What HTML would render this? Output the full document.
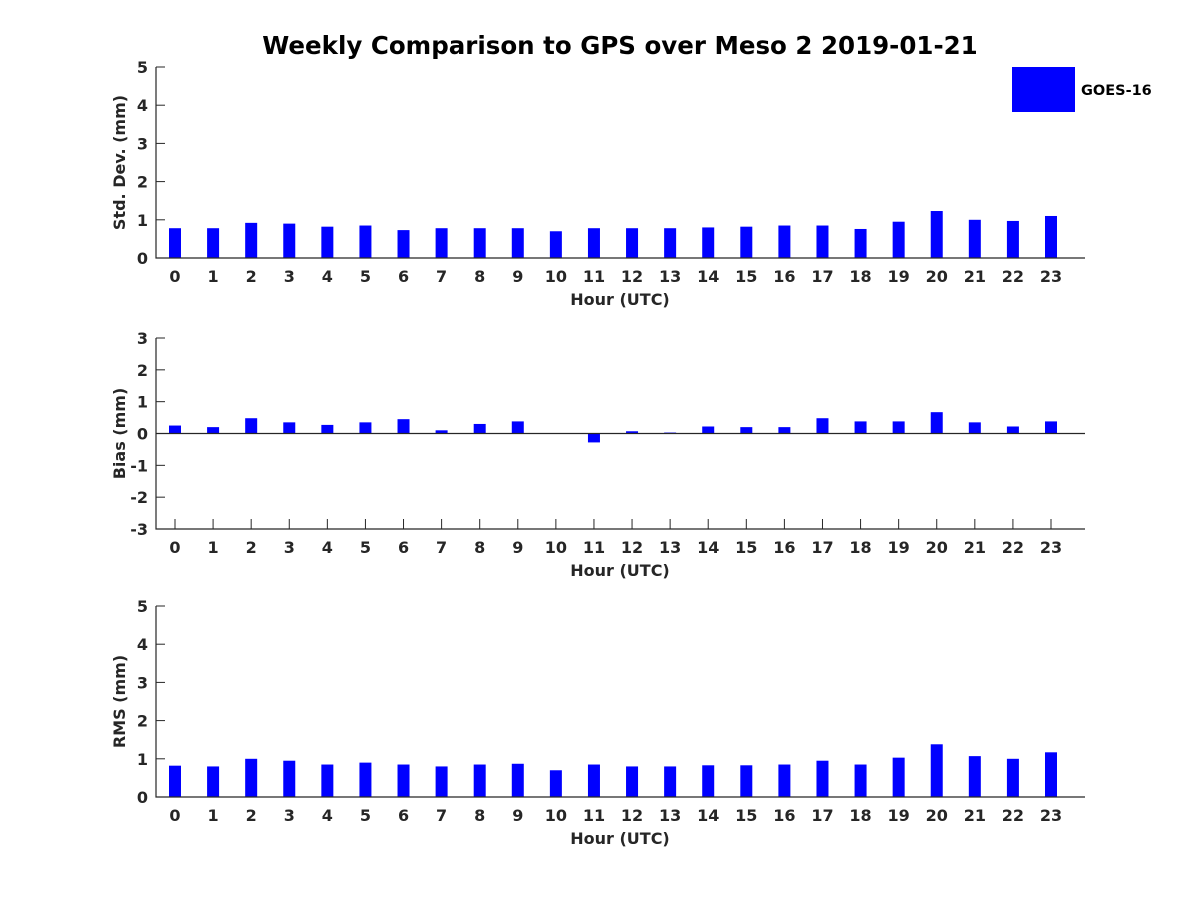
<!DOCTYPE html>
<html><head><meta charset="utf-8"><style>
body{margin:0;background:#fff}
svg text{font-family:"DejaVu Sans","Liberation Sans",sans-serif;font-weight:bold;fill:#262626}
</style></head><body>
<svg id="chart" width="1200" height="900" xmlns="http://www.w3.org/2000/svg">
<rect width="1200" height="900" fill="#fff"/>
<text x="620" y="54" text-anchor="middle" font-size="24.5" style="fill:#000">Weekly Comparison to GPS over Meso 2 2019-01-21</text>
<rect x="1012" y="67" width="63" height="45" fill="#0000ff"/>
<text x="1081" y="95" font-size="14.5" style="fill:#000">GOES-16</text>
</svg>
<script>
const hours=[0,1,2,3,4,5,6,7,8,9,10,11,12,13,14,15,16,17,18,19,20,21,22,23];
const stdValues=[0.78,0.78,0.92,0.9,0.82,0.85,0.73,0.78,0.78,0.78,0.7,0.78,0.78,0.78,0.8,0.82,0.85,0.85,0.76,0.95,1.23,1.0,0.97,1.1];
const biasValues=[0.25,0.2,0.48,0.35,0.27,0.35,0.45,0.1,0.3,0.38,0,-0.28,0.07,0.03,0.22,0.2,0.2,0.48,0.38,0.38,0.67,0.35,0.22,0.38];
const rmsValues=[0.82,0.8,1.0,0.95,0.85,0.9,0.85,0.8,0.85,0.87,0.7,0.85,0.8,0.8,0.83,0.83,0.85,0.95,0.85,1.03,1.38,1.07,1.0,1.17];
const stdTicks=[0,1,2,3,4,5];
const biasTicks=[-3,-2,-1,0,1,2,3];
const rmsTicks=[0,1,2,3,4,5];
const svg=document.getElementById('chart');
const NS='http://www.w3.org/2000/svg';
function mk(tag,attrs,parent){const e=document.createElementNS(NS,tag);for(const k in attrs)e.setAttribute(k,attrs[k]);(parent||svg).appendChild(e);return e;}
const X0=156,X1=1085;
function xS(h){return 175+h*(876/23);}
function panel(name,vals,ticks,top,bot,ylabel){
  const ymin=ticks[0],ymax=ticks[ticks.length-1];
  const yS=v=>bot-(v-ymin)/(ymax-ymin)*(bot-top);
  const g=mk('g',{});
  
  
  ticks.forEach(t=>{
    const y=yS(t);
    mk('line',{x1:X0,x2:X0+9,y1:y,y2:y,stroke:'#262626'},g);
    const tx=mk('text',{x:X0-8,y:y+6,'text-anchor':'end','font-size':16},g);
    tx.textContent=t;
    
    
  });
  hours.forEach(h=>{
    const x=xS(h);
    mk('line',{x1:x,x2:x,y1:bot,y2:bot-10,stroke:'#262626'},g);
    const tx=mk('text',{x:x,y:bot+24,'text-anchor':'middle','font-size':16},g);
    tx.textContent=h;
    
    
  });
  vals.forEach((v,i)=>{
    const y0=yS(0),y1=yS(v);
    const r=mk('rect',{x:xS(hours[i])-6,y:Math.min(y0,y1),width:12,height:Math.max(Math.abs(y1-y0),0.01),fill:'#0000ff'},g);
    
    
  });
  const ax=mk('path',{d:`M${X0} ${top}V${bot}H${X1}`,stroke:'#262626','stroke-width':1.2,fill:'none'},g);
  
  
  if(ymin<0){const z=mk('line',{x1:X0,x2:X1,y1:yS(0),y2:yS(0),stroke:'#262626','stroke-width':1.2},g);
    
    }
  const xl=mk('text',{x:620,y:bot+47,'text-anchor':'middle','font-size':16},g);
  xl.textContent='Hour (UTC)';
  
  
  const cy=(top+bot)/2;
  const yl=mk('text',{x:125,y:cy,'text-anchor':'middle','font-size':16,transform:`rotate(-90 125 ${cy})`},g);
  yl.textContent=ylabel;
  
  
}
panel('std-dev',stdValues,stdTicks,67,258,'Std. Dev. (mm)');
panel('bias',biasValues,biasTicks,338,529,'Bias (mm)');
panel('rms',rmsValues,rmsTicks,606,797,'RMS (mm)');
</script>
</body></html>
